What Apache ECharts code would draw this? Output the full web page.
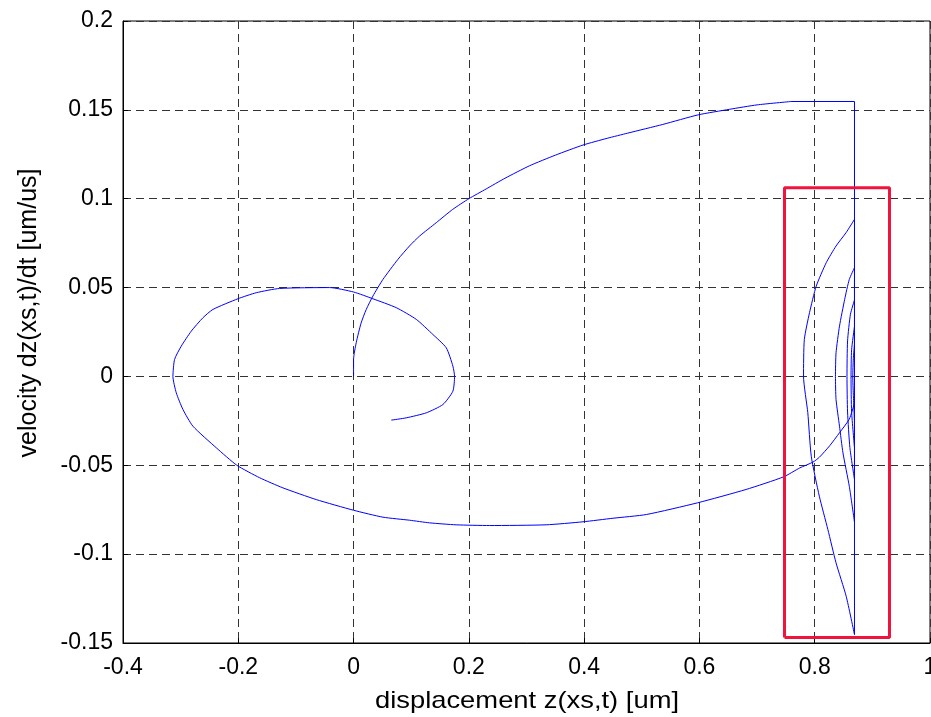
<!DOCTYPE html>
<html>
<head>
<meta charset="utf-8">
<script src="https://cdn.jsdelivr.net/npm/echarts@6/dist/echarts.min.js"></script>
<style>
html,body{margin:0;padding:0;background:#fff;}
#chart{width:931px;height:717px;}
</style>
</head>
<body>
<div id="chart"></div>
<script>
// Tick values
const xTicks = [-0.4, -0.2, 0, 0.2, 0.4, 0.6, 0.8, 1];
const yTicks = [-0.15, -0.1, -0.05, 0, 0.05, 0.1, 0.15, 0.2];

// Phase trajectory [displacement, velocity]
// 1) start at rest, accelerate up to the stop
const riseArc = [
  [0, 0], [0, 0.0096], [0.0046, 0.019], [0.013, 0.030], [0.022, 0.0377],
  [0.0335, 0.0452], [0.051, 0.0546], [0.077, 0.0659], [0.097, 0.0734],
  [0.1145, 0.079], [0.1434, 0.0865], [0.172, 0.094], [0.2, 0.1],
  [0.23, 0.1055], [0.2626, 0.1115], [0.305, 0.1185], [0.35, 0.1245],
  [0.398, 0.1302], [0.44, 0.134], [0.4756, 0.1369], [0.5365, 0.1418],
  [0.598, 0.1472], [0.652, 0.1503], [0.70, 0.1528], [0.759, 0.1547]
];
const stopTop = [[0.759, 0.1547], [0.869, 0.1547]];
// 2) rebound arcs at the stop (x ~ 0.87); impacts are vertical jumps between them
const reboundArc1 = [
  [0.869, -0.1453], [0.8546, -0.1237], [0.837, -0.1049], [0.8228, -0.0861],
  [0.808, -0.0674], [0.794, -0.0449], [0.788, -0.0204], [0.7806, 0],
  [0.782, 0.0208], [0.791, 0.0359], [0.8026, 0.0508], [0.82, 0.064],
  [0.837, 0.0734], [0.8546, 0.081], [0.869, 0.0884]
];
const reboundArc2 = [
  [0.869, -0.082], [0.86, -0.0618], [0.849, -0.043], [0.843, -0.028],
  [0.837, -0.013], [0.836, 0], [0.837, 0.0133], [0.843, 0.0283],
  [0.852, 0.0434], [0.86, 0.0546], [0.869, 0.0612]
];
const reboundArc3 = [
  [0.869, -0.058], [0.861, -0.04], [0.857, -0.02], [0.856, 0],
  [0.857, 0.02], [0.862, 0.035], [0.869, 0.043]
];
const reboundArc4 = [
  [0.869, -0.04], [0.864, -0.02], [0.863, 0], [0.864, 0.015], [0.869, 0.028]
];
const reboundArc5 = [
  [0.869, -0.025], [0.867, -0.01], [0.866, 0], [0.867, 0.01], [0.869, 0.018]
];
// 3) leaves the stop and spirals down
const releaseLoop = [
  [0.869, -0.015], [0.86, -0.024], [0.843, -0.0317], [0.826, -0.039],
  [0.808, -0.0455], [0.797, -0.0482], [0.774, -0.0515], [0.746, -0.0565],
  [0.681, -0.0636], [0.597, -0.0711], [0.508, -0.0777], [0.45, -0.0798],
  [0.398, -0.0818], [0.334, -0.0835], [0.236, -0.0839], [0.178, -0.0835],
  [0.132, -0.0824], [0.097, -0.0809], [0.051, -0.0792], [0, -0.0753],
  [-0.0647, -0.0693], [-0.1226, -0.0627], [-0.163, -0.057], [-0.2024, -0.05],
  [-0.238, -0.0402], [-0.2787, -0.028], [-0.296, -0.0186], [-0.3076, -0.0092],
  [-0.3134, 0], [-0.3105, 0.0096], [-0.299, 0.017], [-0.2815, 0.0255],
  [-0.2614, 0.033], [-0.244, 0.0377], [-0.2007, 0.0437], [-0.1688, 0.0471],
  [-0.1284, 0.0495], [-0.0416, 0.05], [0, 0.0475], [0.0335, 0.0437],
  [0.074, 0.0387], [0.1088, 0.0321], [0.1376, 0.0236], [0.1608, 0.0161],
  [0.1723, 0.0058], [0.1752, 0], [0.1723, -0.0083], [0.155, -0.0158],
  [0.126, -0.0205], [0.0914, -0.0233], [0.0654, -0.0246]
];

// Highlight box (data coordinates)
const boxX = [0.7476, 0.9297];
const boxV = [-0.1469, 0.1061];

const xLabel = 'displacement z(xs,t) [um]';
const yLabel = 'velocity dz(xs,t)/dt [um/us]';

// Curved pieces (lightly smoothed) and straight pieces (stop + impact jumps)
const curved = [riseArc, reboundArc1, reboundArc2, reboundArc3, reboundArc4, reboundArc5, releaseLoop];
const straight = [stopTop];
const arcsInOrder = [stopTop, reboundArc1, reboundArc2, reboundArc3, reboundArc4, reboundArc5, releaseLoop];
for (let i = 0; i < arcsInOrder.length - 1; i++) {
  const a = arcsInOrder[i], b = arcsInOrder[i + 1];
  straight.push([a[a.length - 1], b[0]]);
}
const boxPath = [[boxX[0], boxV[0]], [boxX[1], boxV[0]], [boxX[1], boxV[1]],
  [boxX[0], boxV[1]], [boxX[0], boxV[0]]];

const FONT = '"Liberation Sans", Arial, sans-serif';
const fmt = v => String(+v.toFixed(4));
const blue = {color: '#0000ff', width: 1};

const series = [];
curved.forEach(d => series.push({type: 'line', data: d, showSymbol: false, symbol: 'none',
  smooth: 0.2, lineStyle: blue, z: 2, silent: true}));
straight.forEach(d => series.push({type: 'line', data: d, showSymbol: false, symbol: 'none',
  lineStyle: blue, z: 2, silent: true}));
series.push({type: 'line', data: boxPath, showSymbol: false, symbol: 'none',
  lineStyle: {color: '#f0143c', width: 3}, z: 3, silent: true});

const chart = echarts.init(document.getElementById('chart'), null, {renderer: 'canvas'});
chart.setOption({
  animation: false,
  backgroundColor: '#ffffff',
  grid: {left: 123, right: 1, top: 21, bottom: 74, show: true,
         containLabel: false, outerBoundsMode: 'none',
         borderColor: '#000', borderWidth: 1, backgroundColor: '#fff'},
  xAxis: {
    type: 'value',
    min: xTicks[0], max: xTicks[xTicks.length - 1],
    interval: xTicks[1] - xTicks[0],
    axisLine: {show: true, onZero: false, lineStyle: {color: '#000', width: 1}},
    axisTick: {show: true, inside: true, length: 5, lineStyle: {color: '#000'}},
    axisLabel: {color: '#000', fontFamily: FONT, fontSize: 23, margin: 13,
                formatter: fmt, showMinLabel: true, showMaxLabel: true},
    splitLine: {show: true, lineStyle: {color: '#333', width: 1, type: [8, 5]}}
  },
  yAxis: {
    type: 'value',
    min: yTicks[0], max: yTicks[yTicks.length - 1],
    interval: 0.05,
    axisLine: {show: true, onZero: false, lineStyle: {color: '#000', width: 1}},
    axisTick: {show: true, inside: true, length: 5, lineStyle: {color: '#000'}},
    axisLabel: {color: '#000', fontFamily: FONT, fontSize: 23, margin: 10,
                formatter: fmt, showMinLabel: true, showMaxLabel: true},
    splitLine: {show: true, lineStyle: {color: '#333', width: 1, type: [8, 5]}}
  },
  graphic: [
    {type: 'text', x: 527, y: 701, scaleX: 1.14,
     style: {text: xLabel, fill: '#000', font: '24px ' + FONT,
             align: 'center', verticalAlign: 'middle',
             textAlign: 'center', textVerticalAlign: 'middle'}},
    {type: 'text', x: 29, y: 313, rotation: Math.PI / 2,
     style: {text: yLabel, fill: '#000', font: '25px ' + FONT,
             align: 'center', verticalAlign: 'middle',
             textAlign: 'center', textVerticalAlign: 'middle'}}
  ],
  series: series
});
</script>
</body>
</html>
